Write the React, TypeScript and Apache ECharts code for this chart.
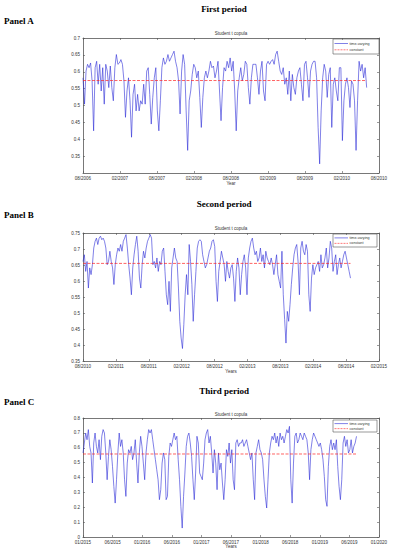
import React, { useEffect, useRef } from "react";
import * as echarts from "echarts";

// Tick labels
const A_TICKS = ["08/2006", "02/2007", "08/2007", "02/2008", "08/2008", "02/2009", "08/2009", "02/2010", "08/2010"];
const B_TICKS = ["08/2010", "02/2011", "08/2011", "02/2012", "08/2012", "02/2013", "08/2013", "02/2014", "08/2014", "02/2015"];
const C_TICKS = ["01/2015", "06/2015", "01/2016", "06/2016", "01/2017", "06/2017", "01/2018", "06/2018", "01/2019", "06/2019", "01/2020"];

// Constant copula estimates
const A_CONST = 0.574;
const B_CONST = 0.655;
const C_CONST = 0.558;

// Sample span (A, B: months from first tick; C: tick steps from first tick)
const A_SPAN = [0, 46];
const B_SPAN = [0, 48.8];
const C_SPAN = [0, 9.24];

// Time-varying correlation series
const A_VALUES = [
  0.582, 0.504, 0.602, 0.622, 0.612, 0.626, 0.573, 0.425, 0.612, 0.631, 0.563, 0.622, 0.543, 0.612, 0.504, 0.622,
  0.602, 0.553, 0.617, 0.553, 0.514, 0.612, 0.651, 0.622, 0.626, 0.636, 0.622, 0.573, 0.465, 0.543, 0.582, 0.514,
  0.406, 0.533, 0.563, 0.484, 0.533, 0.484, 0.514, 0.504, 0.563, 0.504, 0.602, 0.612, 0.533, 0.445, 0.524, 0.582,
  0.612, 0.484, 0.425, 0.514, 0.612, 0.641, 0.622, 0.631, 0.651, 0.631, 0.641, 0.651, 0.661, 0.631, 0.612, 0.573,
  0.475, 0.602, 0.651, 0.622, 0.484, 0.367, 0.514, 0.543, 0.592, 0.622, 0.612, 0.582, 0.602, 0.524, 0.435, 0.524,
  0.582, 0.602, 0.582, 0.602, 0.631, 0.612, 0.617, 0.582, 0.602, 0.631, 0.543, 0.455, 0.553, 0.612, 0.602, 0.631,
  0.612, 0.641, 0.602, 0.631, 0.543, 0.425, 0.543, 0.582, 0.612, 0.573, 0.592, 0.631, 0.622, 0.553, 0.504, 0.582,
  0.622, 0.622, 0.622, 0.582, 0.533, 0.602, 0.631, 0.543, 0.514, 0.622, 0.631, 0.622, 0.631, 0.636, 0.622, 0.651,
  0.661, 0.631, 0.602, 0.592, 0.612, 0.563, 0.582, 0.533, 0.602, 0.514, 0.592, 0.553, 0.533, 0.582, 0.602, 0.612,
  0.563, 0.514, 0.622, 0.631, 0.582, 0.524, 0.602, 0.622, 0.631, 0.631, 0.582, 0.435, 0.327, 0.484, 0.582, 0.622,
  0.602, 0.524, 0.592, 0.612, 0.435, 0.563, 0.582, 0.543, 0.514, 0.612, 0.612, 0.396, 0.514, 0.563, 0.582, 0.553,
  0.494, 0.573, 0.563, 0.514, 0.367, 0.514, 0.631, 0.602, 0.622, 0.582, 0.612, 0.553,
];

const B_VALUES = [
  0.661, 0.682, 0.630, 0.661, 0.578, 0.641, 0.620, 0.651, 0.703, 0.724, 0.734, 0.714, 0.734, 0.740, 0.729, 0.734,
  0.724, 0.703, 0.651, 0.661, 0.693, 0.661, 0.641, 0.589, 0.651, 0.682, 0.703, 0.693, 0.714, 0.693, 0.724, 0.734,
  0.745, 0.703, 0.651, 0.609, 0.557, 0.641, 0.682, 0.714, 0.740, 0.693, 0.609, 0.578, 0.651, 0.693, 0.672, 0.703,
  0.724, 0.734, 0.745, 0.734, 0.651, 0.661, 0.641, 0.672, 0.630, 0.661, 0.651, 0.693, 0.703, 0.630, 0.557, 0.526,
  0.599, 0.505, 0.641, 0.672, 0.703, 0.672, 0.661, 0.578, 0.474, 0.422, 0.389, 0.464, 0.557, 0.620, 0.557, 0.714,
  0.661, 0.589, 0.474, 0.557, 0.630, 0.703, 0.724, 0.729, 0.724, 0.682, 0.661, 0.641, 0.651, 0.672, 0.693, 0.703,
  0.724, 0.729, 0.708, 0.599, 0.536, 0.630, 0.661, 0.693, 0.672, 0.651, 0.599, 0.661, 0.630, 0.609, 0.641, 0.651,
  0.609, 0.536, 0.630, 0.672, 0.641, 0.557, 0.620, 0.661, 0.682, 0.641, 0.557, 0.672, 0.703, 0.724, 0.734, 0.703,
  0.682, 0.693, 0.661, 0.672, 0.703, 0.661, 0.682, 0.641, 0.693, 0.672, 0.661, 0.651, 0.672, 0.651, 0.620, 0.651,
  0.682, 0.620, 0.599, 0.578, 0.693, 0.557, 0.480, 0.406, 0.505, 0.474, 0.526, 0.589, 0.641, 0.682, 0.703, 0.714,
  0.661, 0.557, 0.703, 0.724, 0.693, 0.682, 0.714, 0.693, 0.557, 0.505, 0.609, 0.651, 0.620, 0.641, 0.651, 0.661,
  0.630, 0.682, 0.641, 0.651, 0.672, 0.703, 0.641, 0.672, 0.724, 0.703, 0.630, 0.661, 0.682, 0.620, 0.651, 0.672,
  0.641, 0.661, 0.682, 0.693, 0.672, 0.651, 0.630, 0.609,
];

const C_VALUES = [
  0.565, 0.632, 0.699, 0.654, 0.722, 0.609, 0.565, 0.363, 0.632, 0.699, 0.609, 0.565, 0.654, 0.520, 0.677, 0.722,
  0.699, 0.565, 0.385, 0.542, 0.654, 0.587, 0.475, 0.340, 0.228, 0.385, 0.565, 0.699, 0.609, 0.654, 0.565, 0.385,
  0.273, 0.497, 0.587, 0.565, 0.609, 0.520, 0.565, 0.654, 0.497, 0.363, 0.565, 0.677, 0.609, 0.497, 0.385, 0.565,
  0.654, 0.722, 0.699, 0.722, 0.654, 0.587, 0.520, 0.452, 0.385, 0.251, 0.318, 0.497, 0.565, 0.520, 0.251, 0.273,
  0.542, 0.632, 0.609, 0.654, 0.699, 0.654, 0.677, 0.520, 0.385, 0.206, 0.060, 0.273, 0.430, 0.609, 0.677, 0.699,
  0.632, 0.542, 0.385, 0.251, 0.430, 0.677, 0.632, 0.430, 0.408, 0.385, 0.497, 0.654, 0.699, 0.722, 0.632, 0.677,
  0.565, 0.430, 0.587, 0.497, 0.318, 0.565, 0.452, 0.497, 0.363, 0.251, 0.385, 0.587, 0.542, 0.632, 0.497, 0.587,
  0.385, 0.318, 0.632, 0.654, 0.609, 0.632, 0.632, 0.654, 0.609, 0.632, 0.654, 0.609, 0.565, 0.520, 0.565, 0.385,
  0.251, 0.565, 0.609, 0.654, 0.587, 0.565, 0.520, 0.385, 0.273, 0.195, 0.385, 0.565, 0.632, 0.677, 0.654, 0.699,
  0.632, 0.677, 0.609, 0.699, 0.654, 0.677, 0.632, 0.677, 0.722, 0.699, 0.744, 0.385, 0.228, 0.497, 0.677, 0.699,
  0.632, 0.654, 0.699, 0.677, 0.654, 0.699, 0.677, 0.654, 0.565, 0.385, 0.587, 0.654, 0.699, 0.677, 0.654, 0.632,
  0.609, 0.632, 0.587, 0.520, 0.408, 0.251, 0.206, 0.475, 0.609, 0.654, 0.587, 0.632, 0.587, 0.654, 0.475, 0.340,
  0.251, 0.385, 0.632, 0.677, 0.609, 0.654, 0.565, 0.587, 0.654, 0.565, 0.609, 0.632, 0.677,
];

const PANELS = [
  { heading: "First period", panel: "Panel A", xName: "Year", ticks: A_TICKS, values: A_VALUES, span: A_SPAN, cst: A_CONST,
    xStep: 6, yMin: 0.3, yMax: 0.7, yStep: 0.05, hideMinY: true,
    grid: { left: 83, top: 38, width: 296, height: 135 }, headY: 9, panelY: 21, subY: 33, xNameY: 183, legend: { x: 333, y: 39, w: 46, h: 15 } },
  { heading: "Second period", panel: "Panel B", xName: "Years", ticks: B_TICKS, values: B_VALUES, span: B_SPAN, cst: B_CONST,
    xStep: 6, yMin: 0.35, yMax: 0.75, yStep: 0.05, hideMinY: false,
    grid: { left: 83, top: 233, width: 296, height: 128 }, headY: 204, panelY: 215, subY: 228, xNameY: 371, legend: { x: 333, y: 234, w: 44, h: 13 } },
  { heading: "Third period", panel: "Panel C", xName: "Years", ticks: C_TICKS, values: C_VALUES, span: C_SPAN, cst: C_CONST,
    xStep: 1, yMin: 0, yMax: 0.8, yStep: 0.1, hideMinY: false,
    grid: { left: 83, top: 418, width: 296, height: 119 }, headY: 391, panelY: 402, subY: 414, xNameY: 546, legend: { x: 333, y: 420, w: 44, h: 12 } },
];

const FRAME = "#555";
const TICK_FONT = "Liberation Sans";

export default function App() {
  const ref = useRef<HTMLDivElement>(null);

  useEffect(() => {
    if (!ref.current) return;
    const chart = echarts.init(ref.current, undefined, { renderer: "svg" });

    const grids: any[] = [];
    const xAxes: any[] = [];
    const yAxes: any[] = [];
    const series: any[] = [];
    const graphics: any[] = [];

    const txt = (x: number, y: number, text: string, font: string, align = "center", fill = "#000") => ({
      type: "text",
      x,
      y,
      silent: true,
      style: { text, font, fill, align, textAlign: align, verticalAlign: "middle", textVerticalAlign: "middle" },
    });

    PANELS.forEach((p, i) => {
      grids.push({ ...p.grid, containLabel: false });
      const xMax = (p.ticks.length - 1) * p.xStep;
      const common = {
        type: "value",
        gridIndex: i,
        min: 0,
        max: xMax,
        interval: p.xStep,
        splitLine: { show: false },
        axisLine: { show: true, onZero: false, lineStyle: { color: FRAME, width: 0.8 } },
        axisTick: { show: true, inside: true, length: 2, lineStyle: { color: FRAME, width: 0.6 } },
      };
      xAxes.push({
        ...common,
        position: "bottom",
        axisLabel: {
          show: true,
          fontSize: 4.5,
          fontFamily: TICK_FONT,
          color: "#333",
          margin: 3,
          formatter: (v: number) => p.ticks[Math.round(v / p.xStep)] ?? "",
        },
      });
      xAxes.push({ ...common, position: "top", axisLabel: { show: false } });

      const yCommon = {
        type: "value",
        gridIndex: i,
        min: p.yMin,
        max: p.yMax,
        interval: p.yStep,
        splitLine: { show: false },
        axisLine: { show: true, onZero: false, lineStyle: { color: FRAME, width: 0.8 } },
        axisTick: { show: true, inside: true, length: 2, lineStyle: { color: FRAME, width: 0.6 } },
      };
      yAxes.push({
        ...yCommon,
        position: "left",
        axisLabel: {
          show: true,
          fontSize: 4.5,
          fontFamily: TICK_FONT,
          color: "#333",
          margin: 3,
          showMinLabel: !p.hideMinY,
          formatter: (v: number) => String(+v.toFixed(2)),
        },
      });
      yAxes.push({ ...yCommon, position: "right", axisLabel: { show: false } });

      const n = p.values.length;
      const data = p.values.map((v, k) => [p.span[0] + ((p.span[1] - p.span[0]) * k) / (n - 1), v]);
      series.push({
        type: "line",
        name: "time-varying",
        xAxisIndex: i * 2,
        yAxisIndex: i * 2,
        data,
        showSymbol: false,
        symbol: "none",
        lineStyle: { color: "#2b2bd6", width: 0.6 },
        silent: true,
      });
      series.push({
        type: "line",
        name: "constant",
        xAxisIndex: i * 2,
        yAxisIndex: i * 2,
        data: [
          [p.span[0], p.cst],
          [p.span[1], p.cst],
        ],
        showSymbol: false,
        symbol: "none",
        lineStyle: { color: "#ff2020", width: 0.7, type: [3, 1.5] },
        silent: true,
      });

      // Headings
      graphics.push(txt(224, p.headY, p.heading, 'bold 9px "Liberation Serif"'));
      graphics.push(txt(4, p.panelY, p.panel, 'bold 9px "Liberation Serif"', "left"));
      graphics.push(txt(231, p.subY, "Student t copula", `4.5px "${TICK_FONT}"`, "center", "#333"));
      graphics.push(txt(231, p.xNameY, p.xName, `4.5px "${TICK_FONT}"`, "center", "#333"));

      // Legend box
      const L = p.legend;
      const r1 = L.y + L.h * 0.3;
      const r2 = L.y + L.h * 0.72;
      graphics.push({
        type: "rect",
        silent: true,
        shape: { x: L.x, y: L.y, width: L.w, height: L.h },
        style: { fill: "#fff", stroke: FRAME, lineWidth: 0.6 },
      });
      graphics.push({
        type: "line",
        silent: true,
        shape: { x1: L.x + 1.5, y1: r1, x2: L.x + 15, y2: r1 },
        style: { stroke: "#2b2bd6", lineWidth: 0.6 },
      });
      graphics.push({
        type: "line",
        silent: true,
        shape: { x1: L.x + 1.5, y1: r2, x2: L.x + 15, y2: r2 },
        style: { stroke: "#ff2020", lineWidth: 0.6, lineDash: [2, 1] },
      });
      graphics.push(txt(L.x + 16.5, r1, "time-varying", `3.7px "${TICK_FONT}"`, "left", "#333"));
      graphics.push(txt(L.x + 16.5, r2, "constant", `3.7px "${TICK_FONT}"`, "left", "#333"));
    });

    chart.setOption({
      animation: false,
      backgroundColor: "#fff",
      grid: grids,
      xAxis: xAxes,
      yAxis: yAxes,
      series,
      graphic: { elements: graphics },
    });

    return () => chart.dispose();
  }, []);

  return (
    <div
      ref={ref}
      style={{ position: "fixed", left: 0, top: 0, width: 393, height: 550, background: "#fff" }}
    />
  );
}
